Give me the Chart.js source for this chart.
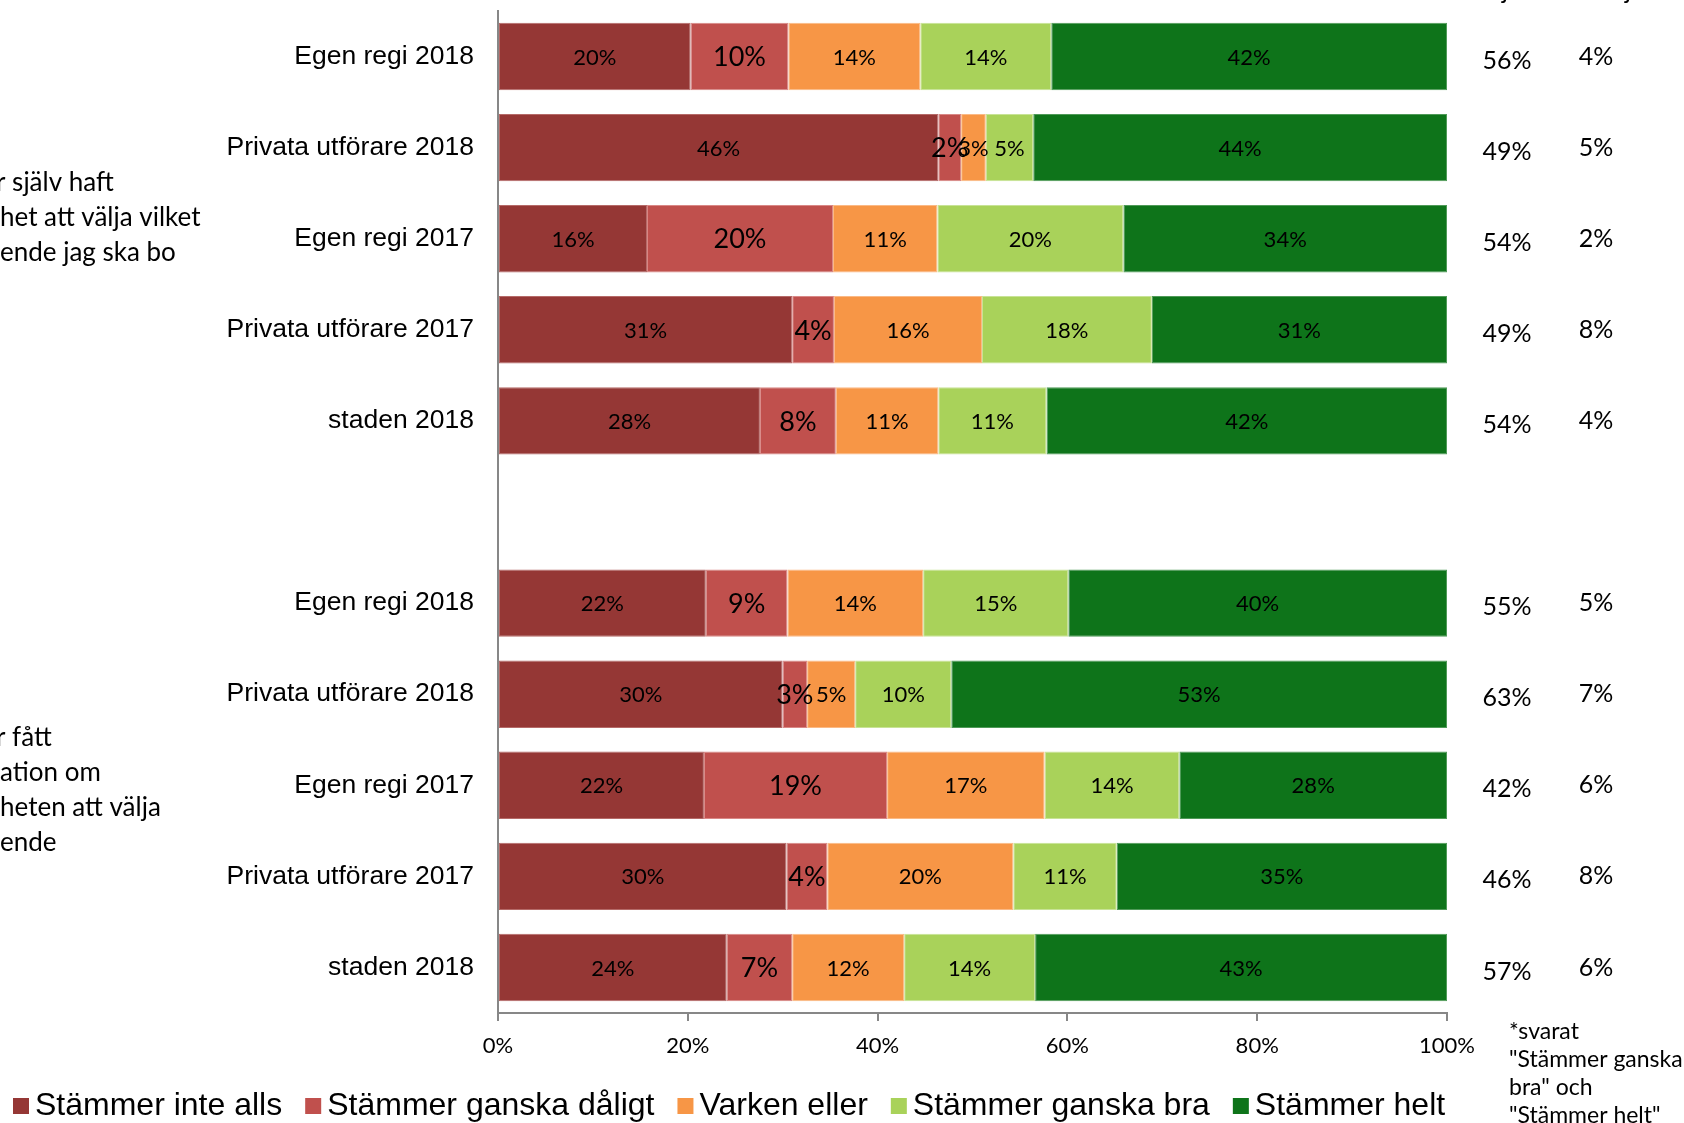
<!DOCTYPE html>
<html><head><meta charset="utf-8">
<script src="https://cdn.jsdelivr.net/npm/chart.js@4.4.1/dist/chart.umd.min.js"></script>
<style>html,body{margin:0;padding:0;background:#fff}canvas{display:block}</style>
</head><body>
<canvas id="c" width="1684" height="1123"></canvas>
<script>
// ---- data ----
const categories = ['Egen regi 2018','Privata utförare 2018','Egen regi 2017','Privata utförare 2017','staden 2018','',
                    'Egen regi 2018','Privata utförare 2018','Egen regi 2017','Privata utförare 2017','staden 2018'];
const seriesNames = ['Stämmer inte alls','Stämmer ganska dåligt','Varken eller','Stämmer ganska bra','Stämmer helt'];
const stammerInteAlls     = [20.3,46.4,15.7,31.0,27.6,null,21.9,30.2,21.7,30.4,24.1];
const stammerGanskaDaligt = [10.3, 2.4,19.6, 4.4, 8.0,null, 8.6, 2.6,19.3, 4.3, 6.9];
const varkenEller         = [13.9, 2.6,11.0,15.6,10.8,null,14.3, 5.1,16.6,19.6,11.8];
const stammerGanskaBra    = [13.8, 5.0,19.6,17.9,11.4,null,15.3,10.2,14.2,10.9,13.8];
const stammerHelt         = [41.7,43.6,34.1,31.1,42.2,null,39.9,52.6,28.2,34.8,43.4];
const andelNojda = [56,49,54,49,54,null,55,63,42,46,57];
const vetEj      = [4,5,2,8,4,null,5,7,6,8,6];
const xTickValues = [0,20,40,60,80,100];
const columnHeaders = ['Nöjda*','Vet ej'];
const groupTexts = [['r själv haft','het att välja vilket','ende jag ska bo'],
                    ['r fått','ation om','heten att välja','ende']];
const footnote = ['*svarat','"Stämmer ganska','bra" och','"Stämmer helt"'];

// ---- styles ----
const colors = ['#953735','#C0504D','#F79646','#A9D25A','#0E741A'];
const edgeColors = ['#B56A68','#D98886','#FBB985','#C8E396','#4F9A58'];
const axisGray = '#878787';
const CAL = 'Lato, "Open Sans", sans-serif';
const ARIAL = '"Liberation Sans", Arial, sans-serif';

const seriesRaw = [stammerInteAlls, stammerGanskaDaligt, varkenEller, stammerGanskaBra, stammerHelt];
// 100% stacked: normalise every row to its own total
const rowTotals = categories.map((_, i) => seriesRaw.reduce((s, arr) => s + (arr[i] || 0), 0));
const datasets = seriesRaw.map((arr, k) => ({
  label: seriesNames[k],
  data: arr.map((v, i) => v == null ? null : v / rowTotals[i] * 100),
  raw: arr,
  backgroundColor: colors[k],
  borderColor: edgeColors[k],
  borderWidth: 1,
  borderSkipped: false,
  barPercentage: 0.74,
  categoryPercentage: 1.0
}));

const overlay = {
  id: 'overlay',
  afterDatasetsDraw(chart) {
    const ctx = chart.ctx;
    ctx.save();
    ctx.fillStyle = '#000';
    ctx.textAlign = 'center';
    ctx.textBaseline = 'middle';
    chart.data.datasets.forEach((ds, di) => {
      const meta = chart.getDatasetMeta(di);
      meta.data.forEach((el, i) => {
        const raw = ds.raw[i];
        if (raw == null) return;
        const p = el.getCenterPoint();
        ctx.font = (di === 1 ? '27px ' : '22px ') + CAL;
        ctx.fillText(Math.round(raw) + '%', p.x, p.y + 1);
      });
    });
    ctx.restore();
  },
  afterDraw(chart) {
    const ctx = chart.ctx;
    const ys = chart.scales.y;
    ctx.save();
    ctx.fillStyle = '#000';
    // right-hand columns
    ctx.font = '25px ' + CAL;
    ctx.textAlign = 'center';
    ctx.textBaseline = 'middle';
    categories.forEach((c, i) => {
      const y = ys.getPixelForValue(i);
      if (andelNojda[i] != null) ctx.fillText(andelNojda[i] + '%', 1507, y + 4);
      if (vetEj[i] != null) ctx.fillText(vetEj[i] + '%', 1596, y);
    });
    // column headers (cropped at the top; only descenders visible)
    ctx.textAlign = 'left';
    ctx.textBaseline = 'alphabetic';
    const jx = [1505, 1628];
    columnHeaders.forEach((h, k) => {
      const idx = h.indexOf('j');
      const pre = ctx.measureText(h.slice(0, idx)).width;
      const jw = ctx.measureText('j').width;
      ctx.fillText(h, jx[k] - pre - jw / 2, -1);
    });
    // left group texts (cropped at the left edge)
    ctx.font = '26px ' + CAL;
    ctx.textBaseline = 'middle';
    const groupY = [[183, 218, 253], [738, 773, 808, 843]];
    const groupX = [[-4, 0, 0], [-4, 0, 0, 0]];
    groupTexts.forEach((lines, g) => lines.forEach((t, j) => ctx.fillText(t, groupX[g][j], groupY[g][j])));
    // footnote
    ctx.font = '23px ' + CAL;
    footnote.forEach((t, j) => ctx.fillText(t, 1509, 1032 + j * 28));
    // legend
    ctx.font = '32px ' + ARIAL;
    let x = 13;
    const ly = 1106;
    seriesNames.forEach((n, k) => {
      ctx.fillStyle = colors[k];
      ctx.fillRect(x, ly - 8, 16, 16);
      ctx.fillStyle = '#000';
      ctx.fillText(n, x + 22, ly);
      x += 22 + ctx.measureText(n).width + 23;
    });
    ctx.restore();
  }
};

new Chart(document.getElementById('c'), {
  type: 'bar',
  data: { labels: categories, datasets },
  options: {
    indexAxis: 'y',
    responsive: false,
    animation: false,
    layout: { padding: { top: 11, right: 237, left: 0, bottom: 0 } },
    plugins: { legend: { display: false }, tooltip: { enabled: false } },
    scales: {
      x: {
        stacked: true, min: 0, max: 100,
        afterBuildTicks(s) { s.ticks = xTickValues.map(v => ({ value: v })); },
        afterFit(s) { s.height = 110; s.paddingLeft = 0; s.paddingRight = 0; },
        ticks: { callback: v => v + '%', color: '#000', font: { family: CAL, size: 22 }, padding: 12, maxRotation: 0 },
        grid: { display: true, drawOnChartArea: false, drawTicks: true, tickLength: 8, color: axisGray, lineWidth: 2 },
        border: { display: true, color: axisGray, width: 2 }
      },
      y: {
        stacked: true,
        afterFit(s) { s.width = 498; s.paddingTop = 0; s.paddingBottom = 0; },
        ticks: { color: '#000', font: { family: ARIAL, size: 26.5 }, padding: 24 },
        grid: { display: false, drawTicks: false },
        border: { display: true, color: axisGray, width: 2 }
      }
    }
  },
  plugins: [overlay]
});
</script>
</body></html>
